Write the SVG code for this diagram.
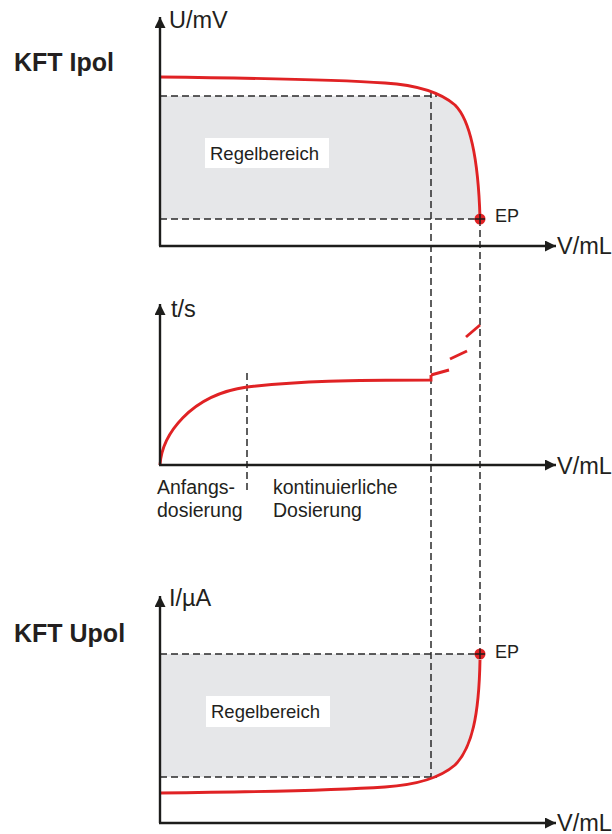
<svg xmlns="http://www.w3.org/2000/svg" width="612" height="834" viewBox="0 0 612 834">
<style>
.ax{stroke:#1d1d1b;stroke-width:2.4;fill:none}
.dash{stroke:#2a2a2a;stroke-width:1.5;stroke-dasharray:7 4;fill:none}
.red{stroke:#e02224;stroke-width:2.9;fill:none;stroke-linecap:butt}
.t{font-family:"Liberation Sans",Arial,sans-serif;fill:#231f20}
.ax-l{font-size:23.5px}
.lbl{font-size:19.5px}
.title{font-size:25px;font-weight:bold}
.ept{font-size:18px}
.reg{font-size:18.5px}
.gray{fill:#e6e7e9}
.box{fill:#ffffff}
.ep{fill:#e02224}
.cross{stroke:#1d1d1b;stroke-width:1.5}
</style>
<defs>
<marker id="arr" viewBox="0 0 10 10" refX="10" refY="5" markerWidth="11" markerHeight="11" markerUnits="userSpaceOnUse" orient="auto">
<path d="M0,0 L10,5 L0,10 z" fill="#1d1d1b"/>
</marker>
<clipPath id="clipTop">
<path d="M160,77 C250,78 340,80 385,83 C415,85 440,92 455,105 C468,118 478,150 480,218 L480,246 L160,246 Z"/>
</clipPath>
<clipPath id="clipBot">
<path d="M160,793 C250,792 340,790 385,787 C415,785 440,778 455,765 C472,748 479,715 480,660 L480,600 L160,600 Z"/>
</clipPath>
</defs>

<g id="chart-ipol">
<rect class="gray" x="160" y="96" width="321" height="123" clip-path="url(#clipTop)"/>
<rect class="box" x="205" y="138" width="124" height="30"/>
<text class="t reg" x="210" y="160">Regelbereich</text>
<text class="t title" x="14" y="71">KFT Ipol</text>
<text class="t ax-l" x="169" y="28">U/mV</text>
<text class="t ax-l" x="557" y="254">V/mL</text>
<text class="t ept" x="495" y="222">EP</text>
</g>

<g id="chart-time">
<text class="t ax-l" x="171" y="317">t/s</text>
<text class="t ax-l" x="557" y="474">V/mL</text>
<text class="t lbl" x="157" y="494">Anfangs-</text>
<text class="t lbl" x="157" y="517">dosierung</text>
<text class="t lbl" x="273" y="494">kontinuierliche</text>
<text class="t lbl" x="273" y="517">Dosierung</text>
</g>

<g id="chart-upol">
<rect class="gray" x="160" y="654" width="321" height="123" clip-path="url(#clipBot)"/>
<rect class="box" x="206" y="696" width="124" height="31"/>
<text class="t reg" x="211" y="718">Regelbereich</text>
<text class="t title" x="14" y="642">KFT Upol</text>
<text class="t ax-l" x="169" y="606">I/µA</text>
<text class="t ax-l" x="557" y="831">V/mL</text>
<text class="t ept" x="495" y="658">EP</text>
</g>

<g id="connectors">
<line class="dash" x1="160" y1="96" x2="437" y2="96"/>
<line class="dash" x1="160" y1="219" x2="480" y2="219"/>
<line class="dash" x1="160" y1="654" x2="480" y2="654"/>
<line class="dash" x1="160" y1="777" x2="437" y2="777"/>
<line class="dash" x1="431" y1="91" x2="431" y2="777"/>
<line class="dash" x1="480" y1="219" x2="480" y2="654"/>
<line class="dash" x1="247" y1="373" x2="247" y2="490"/>

<path class="red" d="M160,77 C250,78 340,80 385,83 C415,85 440,92 455,105 C468,118 478,150 480,218"/>
<path class="red" d="M160,465 C162,435 190,395 247,387 C300,381 350,380 431,380 L431,375"/>
<line class="red" x1="431" y1="375" x2="449" y2="370"/>
<line class="red" x1="450" y1="359" x2="467" y2="351"/>
<line class="red" x1="466" y1="337" x2="480" y2="325"/>
<path class="red" d="M160,793 C250,792 340,790 385,787 C415,785 440,778 455,765 C472,748 479,715 480,660"/>

<line class="ax" x1="160" y1="246" x2="160" y2="17" marker-end="url(#arr)"/>
<line class="ax" x1="159" y1="246" x2="556" y2="246" marker-end="url(#arr)"/>
<line class="ax" x1="160" y1="465" x2="160" y2="304" marker-end="url(#arr)"/>
<line class="ax" x1="159" y1="465" x2="556" y2="465" marker-end="url(#arr)"/>
<line class="ax" x1="160" y1="823" x2="160" y2="596" marker-end="url(#arr)"/>
<line class="ax" x1="159" y1="823" x2="556" y2="823" marker-end="url(#arr)"/>

<circle class="ep" cx="480" cy="219" r="5.5"/>
<path class="cross" d="M475,219 H485 M480,214 V224"/>
<circle class="ep" cx="480" cy="654" r="5.5"/>
<path class="cross" d="M475,654 H485 M480,649 V659"/>
</g>
</svg>
